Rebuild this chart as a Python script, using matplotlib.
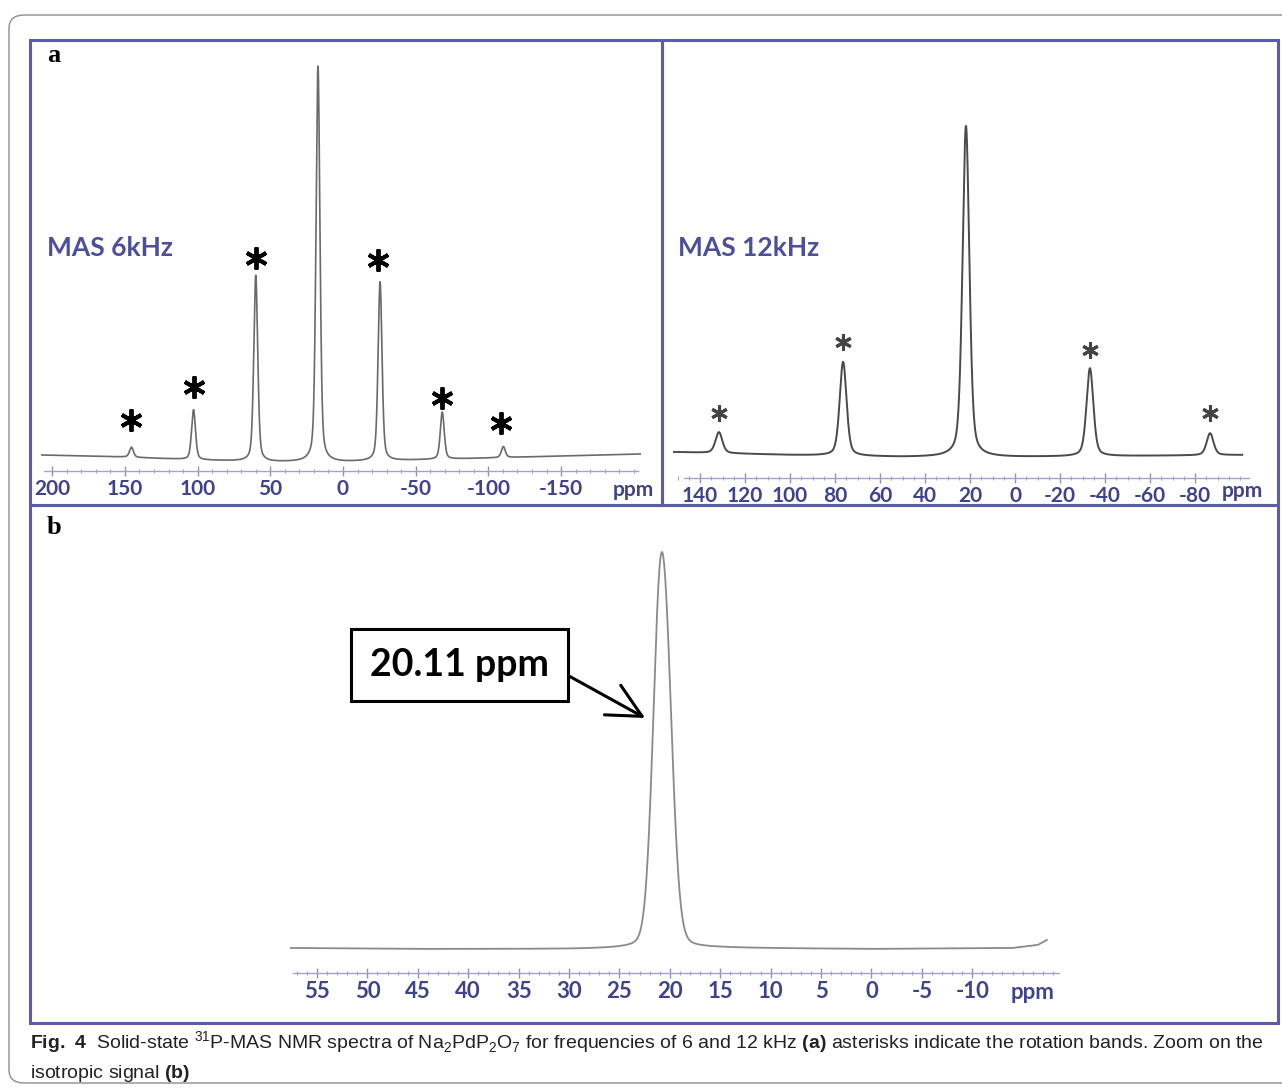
import numpy as np
import matplotlib.pyplot as plt
from matplotlib.patches import Rectangle, FancyBboxPatch

# ---- peak tables (ppm, amplitude in a.u.) ----
# MAS 6 kHz
ppm_6k = [145.5, 102.8, 60.0, 17.2, -25.5, -68.3, -110.3]
amp_6k = [10, 50, 186, 396, 179, 47, 11]
star_6k_ppm = [145.5, 102.8, 60.0, -24.0, -68.3, -108.5]
star_6k_y = [51, 84, 213, 211, 73, 48]
base_6k_ppm = [208, 150, 100, 50, 0, -50, -100, -150, -205]
base_6k = [16, 14, 11, 9, 9, 11, 13, 15, 17]

# MAS 12 kHz
ppm_12k = [131.6, 76.4, 21.8, -33.3, -86.7]
amp_12k = [21, 94, 331, 88, 22]
star_12k_ppm = [131.6, 76.4, -33.3, -86.7]
star_12k_y = [65, 136, 128, 65]
base_12k_ppm = [152, 100, 50, 0, -50, -101]
base_12k = [26, 23, 21, 21, 22, 23]

# zoom on isotropic signal (main line + shoulder)
ppm_iso = [21.05, 20.25]
amp_iso = [280, 180]
base_iso_ppm = [57.7, 45, 30, 15, 0, -14, -16.5, -17.4]
base_iso = [25, 24, 24, 25, 24, 25, 28, 33]

ticks_6k = [200, 150, 100, 50, 0, -50, -100, -150]
ticks_12k = [140, 120, 100, 80, 60, 40, 20, 0, -20, -40, -60, -80]
ticks_iso = [55, 50, 45, 40, 35, 30, 25, 20, 15, 10, 5, 0, -5, -10]

W, H = 1282, 1092
BLUE = '#5b5ea6'
LABBLUE = '#3f438e'
CAPFONT = 'Liberation Sans'

plt.rcParams['font.family'] = ['Lato', 'DejaVu Sans']
plt.rcParams['axes.unicode_minus'] = False
plt.rcParams['mathtext.fontset'] = 'custom'
plt.rcParams['mathtext.rm'] = CAPFONT
plt.rcParams['mathtext.bf'] = CAPFONT + ':bold'


def spectrum(x, centers, amps, fwhm, eta, bx, by):
    y = np.interp(x, bx[::-1], by[::-1])
    for c, a in zip(centers, amps):
        g = np.exp(-4 * np.log(2) * ((x - c) / fwhm) ** 2)
        l = 1 / (1 + 4 * ((x - c) / fwhm) ** 2)
        y = y + a * (eta * l + (1 - eta) * g)
    return y


def add_axes(x0, x1, ybot, ytop):
    return fig.add_axes([x0 / W, 1 - ybot / H, (x1 - x0) / W, (ybot - ytop) / H])


def style_axis(ax, xlim, ylim, major, minor, bounds, fs):
    ax.set_xlim(*xlim)
    ax.set_ylim(*ylim)
    for s in ['top', 'left', 'right']:
        ax.spines[s].set_visible(False)
    ax.spines['bottom'].set_color('#a0a2cf')
    ax.spines['bottom'].set_linewidth(1.0)
    ax.spines['bottom'].set_bounds(*bounds)
    ax.set_yticks([])
    ax.set_xticks(major)
    ax.set_xticks(minor, minor=True)
    ax.set_xticklabels([str(t) for t in major], fontsize=fs, fontweight='bold',
                       color=LABBLUE)
    ax.tick_params(axis='x', which='major', direction='inout', length=7,
                   width=1, color='#8f91c4', pad=2)
    ax.tick_params(axis='x', which='minor', direction='inout', length=3,
                   width=0.8, color='#a0a2cf')
    ax.patch.set_alpha(0)


fig = plt.figure(figsize=(W / 100, H / 100), dpi=100)

# outer frame
fig.add_artist(FancyBboxPatch((9 / W, 1 - 1083 / H), 1.2, (1083 - 15) / H,
                              boxstyle='round,pad=0,rounding_size=0.012',
                              transform=fig.transFigure, fc='none',
                              ec='#8c8c8c', lw=1))
# blue panel borders
for (x0, y0, x1, y1) in [(30, 40, 662, 505), (662, 40, 1278, 505), (30, 505, 1278, 1023)]:
    fig.add_artist(Rectangle((x0 / W, 1 - y1 / H), (x1 - x0) / W, (y1 - y0) / H,
                             transform=fig.transFigure, fc='none', ec=BLUE, lw=2.2))

# ---- panel a, 6 kHz ----
ax1 = add_axes(40.6, 641, 471, 60)
x = np.linspace(208, -205, 4000)
ax1.plot(x, spectrum(x, ppm_6k, amp_6k, 3.2, 0.4, base_6k_ppm, base_6k),
         color='#6a6a6a', lw=1.2)
ax1.plot(star_6k_ppm, star_6k_y, ls='none', marker=(6, 2, 0), ms=16, mew=2.8,
         color='black')
style_axis(ax1, (208, -205), (0, 411), ticks_6k, np.arange(-200, 201, 10),
           (206, -203), 15)
ax1.text(-200, -0.046, 'ppm', transform=ax1.get_xaxis_transform(), ha='center',
         va='center', fontsize=15, fontweight='bold', color=LABBLUE)
fig.text(47 / W, 1 - 248 / H, 'MAS 6kHz', fontsize=19, fontweight='bold',
         color='#4b4f9c', va='center')

# ---- panel a, 12 kHz ----
ax2 = add_axes(673, 1249, 478, 60)
x = np.linspace(152, -101, 4000)
ax2.plot(x, spectrum(x, ppm_12k, amp_12k, 3.6, 0.4, base_12k_ppm, base_12k),
         color='#4a4a4a', lw=1.4)
ax2.plot(star_12k_ppm, star_12k_y, ls='none', marker=(6, 2, 0), ms=12, mew=2.2,
         color='#444444')
style_axis(ax2, (152, -104), (0, 418), ticks_12k, np.arange(-100, 151, 5),
           (147, -104), 15)
ax2.text(-101, -0.03, 'ppm', transform=ax2.get_xaxis_transform(), ha='center',
         va='center', fontsize=15, fontweight='bold', color=LABBLUE)
fig.text(678 / W, 1 - 248 / H, 'MAS 12kHz', fontsize=19, fontweight='bold',
         color='#4b4f9c', va='center')

# ---- panel b ----
ax3 = add_axes(289.8, 1058.9, 973, 540)
x = np.linspace(57.7, -17.4, 3000)
ax3.plot(x, spectrum(x, ppm_iso, amp_iso, 1.7, 0.15, base_iso_ppm, base_iso),
         color='#8a8a8a', lw=1.3)
style_axis(ax3, (57.7, -18.6), (0, 433), ticks_iso, np.arange(-18, 58, 1),
           (57.4, -18.6), 16)
ax3.text(-16.0, -0.046, 'ppm', transform=ax3.get_xaxis_transform(), ha='center',
         va='center', fontsize=16, fontweight='bold', color=LABBLUE)
ax3.annotate('20.11 ppm', xy=(22.45, 255), xytext=(40.86, 308), textcoords='data',
             fontsize=27, fontweight='bold', ha='center', va='center',
             bbox=dict(boxstyle='square,pad=0.5', fc='white', ec='black', lw=2.2),
             arrowprops=dict(arrowstyle='->,head_length=0.9,head_width=0.45',
                             lw=2.2, color='black', relpos=(1, 0.5),
                             shrinkA=0, shrinkB=0))

# panel letters
fig.text(47 / W, 1 - 55 / H, 'a', family='Liberation Serif', fontweight='bold',
         fontsize=19, va='center')
fig.text(47 / W, 1 - 527 / H, 'b', family='Liberation Serif', fontweight='bold',
         fontsize=19, va='center')

# caption
cap1 = (r'$\mathbf{Fig.\ 4}$  Solid-state $^{31}$P-MAS NMR spectra of '
        r'Na$_2$PdP$_2$O$_7$ for frequencies of 6 and 12 kHz $\mathbf{(a)}$ '
        r'asterisks indicate the rotation bands. Zoom on the')
cap2 = r'isotropic signal $\mathbf{(b)}$'
fig.text(30 / W, 1 - 1043 / H, cap1, family=CAPFONT,
         fontsize=14, va='center', color='#222222')
fig.text(30 / W, 1 - 1073 / H, cap2, family=CAPFONT,
         fontsize=14, va='center', color='#222222')

fig.savefig('out.png', dpi=100)
